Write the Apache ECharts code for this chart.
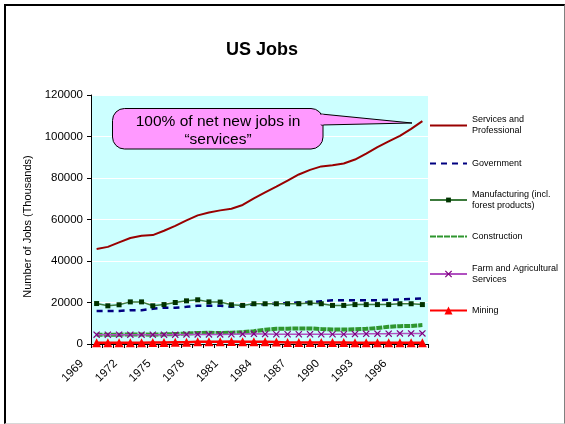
<!DOCTYPE html>
<html>
<head>
<meta charset="utf-8">
<script src="https://cdn.jsdelivr.net/npm/echarts@6/dist/echarts.min.js"></script>
<style>
  html, body { margin: 0; padding: 0; background: #fff; }
  #wrap { position: relative; width: 565px; height: 424px; overflow: hidden; }
  #chart { position: absolute; left: 0; top: 0; width: 565px; height: 424px; }
  #frame { position: absolute; left: 4px; top: 4px; width: 558px; height: 417px;
           border-top: 2px solid #000; border-left: 2px solid #000;
           border-right: 1px solid #808080; border-bottom: 1px solid #d8d8d8; pointer-events: none; }
</style>
</head>
<body>
<div id="wrap"><div id="chart"></div><div id="frame"></div></div>
<script>
// ---- data (thousands of jobs) ----
const years = ['1969','1970','1971','1972','1973','1974','1975','1976','1977','1978',
               '1979','1980','1981','1982','1983','1984','1985','1986','1987','1988',
               '1989','1990','1991','1992','1993','1994','1995','1996','1997','1998'];

const services = [45800,46800,49000,51100,52200,52500,54600,56900,59600,62000,
                  63400,64400,65200,67000,70200,73100,75800,78700,81700,83900,
                  85600,86100,87000,88900,91800,94900,97600,100300,103700,107400];

const government = [15900,15900,15900,16300,16300,17000,17500,17500,17900,18400,
                    18400,18400,17900,18600,19000,19200,19500,19700,20000,20000,
                    20600,21100,21100,21100,21100,21100,21300,21400,21700,22000];

const manufacturing = [19500,18400,18900,20300,20300,18400,19000,20000,20800,21300,
                       20300,20200,18900,18600,19400,19400,19400,19400,19400,19800,
                       19400,18600,18600,19000,19000,19000,19000,19400,19400,19000];

const construction = [4400,4400,4500,4600,4600,4500,4600,4800,5000,5300,
                      5400,5300,5400,5700,6200,6900,7300,7400,7500,7500,
                      7200,7000,7000,7100,7300,7700,8300,8600,8700,9100];

const farm = [4500,4500,4500,4500,4500,4500,4500,4500,4600,4600,
              4600,4600,4700,4800,4900,4800,4700,4700,4700,4700,
              4700,4700,4700,4800,4900,5000,5000,5100,5100,5100];

const mining = [650,640,630,640,650,700,750,790,830,1050,
                1080,1120,1150,1100,1050,1030,1000,780,760,750,
                730,700,680,660,640,620,600,590,580,570];

const seriesNames = ['Services and Professional','Government','Manufacturing (incl. forest products)',
                     'Construction','Farm and Agricultural Services','Mining'];
const legendLabels = ['Services and\nProfessional','Government','Manufacturing (incl.\nforest products)',
                      'Construction','Farm and Agricultural\nServices','Mining'];
const yTicks = [0, 20000, 40000, 60000, 80000, 100000, 120000];
const calloutLines = ['100% of net new jobs in', '\u201Cservices\u201D'];

// ---- chart ----
const FONT = 'Arial, "Liberation Sans", sans-serif';
const chart = echarts.init(document.getElementById('chart'), null, {renderer: 'canvas'});
const xPath = 'path://M0,1.2L1.2,0L5,3.8L8.8,0L10,1.2L6.2,5L10,8.8L8.8,10L5,6.2L1.2,10L0,8.8L3.8,5Z';

const legendTops = [109, 158, 183.5, 231, 257.5, 305];
const twoLine = [true, false, true, false, true, false];
const hasSymbol = [false, false, true, false, true, true];
const iconHeights = [10, 10, 6, 10, 9, 10];
const legends = seriesNames.map((n, i) => ({
  data: [n],
  orient: 'vertical',
  left: 429,
  top: legendTops[i] + (twoLine[i] ? 0 : (10 - iconHeights[i]) / 2),
  padding: 0,
  itemWidth: 37,
  itemHeight: iconHeights[i],
  selectedMode: false,
  itemStyle: hasSymbol[i] ? {} : { opacity: 0 },
  formatter: () => legendLabels[i],
  textStyle: { fontFamily: FONT, fontSize: 9, color: '#000', lineHeight: 11,
               padding: twoLine[i] ? [11, 0, 0, 0] : 0 }
}));

const option = {
  animation: false,
  backgroundColor: 'transparent',
  textStyle: { fontFamily: FONT },
  title: {
    text: 'US Jobs', left: 226, top: 41, padding: 0,
    textStyle: { fontFamily: FONT, fontSize: 18, fontWeight: 'bold', color: '#000' }
  },
  legend: legends,
  grid: { left: 91, right: 137, top: 95, bottom: 80, show: true,
          backgroundColor: '#CCFFFF', borderWidth: 0 },
  xAxis: {
    type: 'category', data: years, boundaryGap: true,
    axisLine: { lineStyle: { color: '#000', width: 1 } },
    axisTick: { show: true, interval: 0, length: 4, lineStyle: { color: '#000' } },
    axisLabel: { interval: 2, rotate: 45, fontSize: 11.5, color: '#000', margin: 3,
                 padding: [0, 21, 0, 0], fontFamily: FONT },
    splitLine: { show: false }
  },
  yAxis: {
    type: 'value', min: yTicks[0], max: yTicks[yTicks.length - 1], interval: yTicks[1] - yTicks[0],
    name: 'Number of Jobs (Thousands)', nameLocation: 'middle', nameGap: 54,
    nameTextStyle: { fontFamily: FONT, fontSize: 11, color: '#000', padding: [0, 14, 0, 0] },
    axisLine: { show: true, lineStyle: { color: '#000', width: 1 } },
    axisTick: { show: true, length: 4, lineStyle: { color: '#000' } },
    axisLabel: { fontSize: 11.5, color: '#000', margin: 8, fontFamily: FONT,
                 formatter: v => String(v) },
    splitLine: { show: true, lineStyle: { color: '#ffffff', width: 1 } }
  },
  series: [
    { name: seriesNames[0], type: 'line', data: services, symbol: 'none', showSymbol: false,
      color: '#990000', lineStyle: { color: '#990000', width: 2 } },
    { name: seriesNames[1], type: 'line', data: government, symbol: 'none', showSymbol: false,
      color: '#000080', lineStyle: { color: '#000080', width: 2.5, type: [6, 5] } },
    { name: seriesNames[2], type: 'line', data: manufacturing, symbol: 'rect', symbolSize: 5,
      showAllSymbol: true,
      color: '#003300', itemStyle: { color: '#003300' },
      lineStyle: { color: '#3c7a3c', width: 1.5 } },
    { name: seriesNames[3], type: 'line', data: construction, symbol: 'none', showSymbol: false,
      color: '#2f962f', lineStyle: { color: '#2f962f', width: 4, type: [6, 1] } },
    { name: seriesNames[4], type: 'line', data: farm, symbol: xPath, symbolSize: 7,
      showAllSymbol: true,
      color: '#800080', itemStyle: { color: '#800080' },
      lineStyle: { color: '#b050c0', width: 1.5 } },
    { name: seriesNames[5], type: 'line', data: mining, symbol: 'triangle', symbolSize: 9,
      showAllSymbol: true,
      color: '#ff0000', itemStyle: { color: '#ff0000' },
      lineStyle: { color: '#ff0000', width: 2.5 } }
  ],
  graphic: [
    { type: 'rect', z: 100, shape: { x: 112.5, y: 108.5, width: 210.5, height: 40.5, r: 12 },
      style: { fill: '#FF99FF', stroke: '#000', lineWidth: 1 } },
    { type: 'polygon', z: 100, shape: { points: [[321, 114], [412, 123], [321, 125]] },
      style: { fill: '#FF99FF', stroke: '#000', lineWidth: 1 } },
    { type: 'rect', z: 101, shape: { x: 320, y: 114.6, width: 3.5, height: 10 },
      style: { fill: '#FF99FF' } },
    { type: 'text', z: 102, x: 218, y: 122,
      style: { text: calloutLines[0], font: '15.5px ' + FONT, fill: '#000',
               textAlign: 'center', textVerticalAlign: 'middle' } },
    { type: 'text', z: 102, x: 218, y: 140,
      style: { text: calloutLines[1], font: '15.5px ' + FONT, fill: '#000',
               textAlign: 'center', textVerticalAlign: 'middle' } }
  ]
};
chart.setOption(option);
</script>
</body>
</html>
